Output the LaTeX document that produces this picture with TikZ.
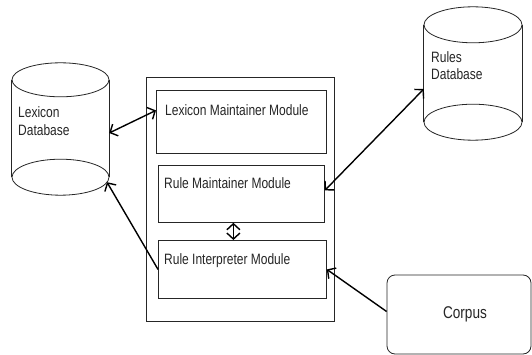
\documentclass[tikz,border=0pt]{standalone}
\usepackage{fontspec}
\setmainfont{Liberation Sans}[FakeStretch=0.8]
\usetikzlibrary{arrows.meta}
\begin{document}
\begin{tikzpicture}[x=1pt,y=-1pt,
  line/.style={draw=black!85, line width=0.8pt},
  box/.style={line, inner sep=0pt, anchor=north west},
  dbside/.style={minimum width=#1, minimum height=97pt, inner sep=0pt},
  lbl/.style={anchor=base west, inner sep=0pt, text=black!85, font=\fontsize{15}{18}\selectfont},
  twoway/.style={line width=1.4pt, draw=black, {Straight Barb[length=6pt,width=13pt]}-{Straight Barb[length=6pt,width=13pt]}},
  oneway/.style={line width=1.4pt, draw=black, -{Straight Barb[length=6pt,width=13pt]}}]
\useasboundingbox (0,0) rectangle (532,355);
\fill[white] (0,0) rectangle (532,355);

% Lexicon database cylinder
\node[dbside=97pt] (lexdb) at (60.5,128.5) {};
\draw[line] (lexdb.north west) -- (lexdb.south west) (lexdb.north east) -- (lexdb.south east);
\draw[line] (lexdb.north) ellipse[x radius=48.5pt, y radius=17pt];
\draw[line] (lexdb.south) ellipse[x radius=48.5pt, y radius=18pt];
\node[lbl] (lexdbA) at (18,118) {Lexicon};
\node[lbl] (lexdbB) at (18,136) {Database};

% Rules database cylinder
\node[dbside=98pt] (rulesdb) at (473,73.5) {};
\draw[line] (rulesdb.north west) -- (rulesdb.south west) (rulesdb.north east) -- (rulesdb.south east);
\draw[line] (rulesdb.north) ellipse[x radius=49pt, y radius=18pt];
\draw[line] (rulesdb.south) ellipse[x radius=49pt, y radius=18pt];
\node[lbl] (rulesdbA) at (431,63) {Rules};
\node[lbl] (rulesdbB) at (431,80) {Database};

% Outer box and modules
\node[box, minimum width=188pt, minimum height=244pt] (outer) at (146,77) {};
\node[box, minimum width=170pt, minimum height=63pt] (lmm) at (156,90) {};
\node[box, minimum width=166pt, minimum height=57pt] (rmm) at (158,165) {};
\node[box, minimum width=168pt, minimum height=58pt] (rim) at (158,240) {};
\node[lbl] (lmmT) at (165,116) {Lexicon Maintainer Module};
\node[lbl] (rmmT) at (164,189) {Rule Maintainer Module};
\node[lbl] (rimT) at (164,264) {Rule Interpreter Module};

% Corpus
\node[line, rounded corners=8pt, minimum width=144pt, minimum height=79pt, inner sep=0pt] (corpus) at (459,314.5) {};
\node[inner sep=0pt, anchor=base, text=black!85, font=\fontsize{17}{20}\selectfont] (corpusT) at (465,318) {Corpus};

% Connectors
\draw[twoway] ([yshift=-4.5pt]lexdb.east) -- ([yshift=11.5pt]lmm.west);
\draw[twoway] ([yshift=-15.5pt]rulesdb.west) -- ([yshift=3.5pt]rmm.east);
\draw[twoway] ([xshift=-8pt]rmm.south) -- ([xshift=-9pt]rim.north);
\draw[oneway] (rim.west) -- ([shift={(46.5pt,-5pt)}]lexdb.south);
\draw[oneway] ([yshift=3pt]corpus.west) -- (rim.east);
\end{tikzpicture}
\end{document}
